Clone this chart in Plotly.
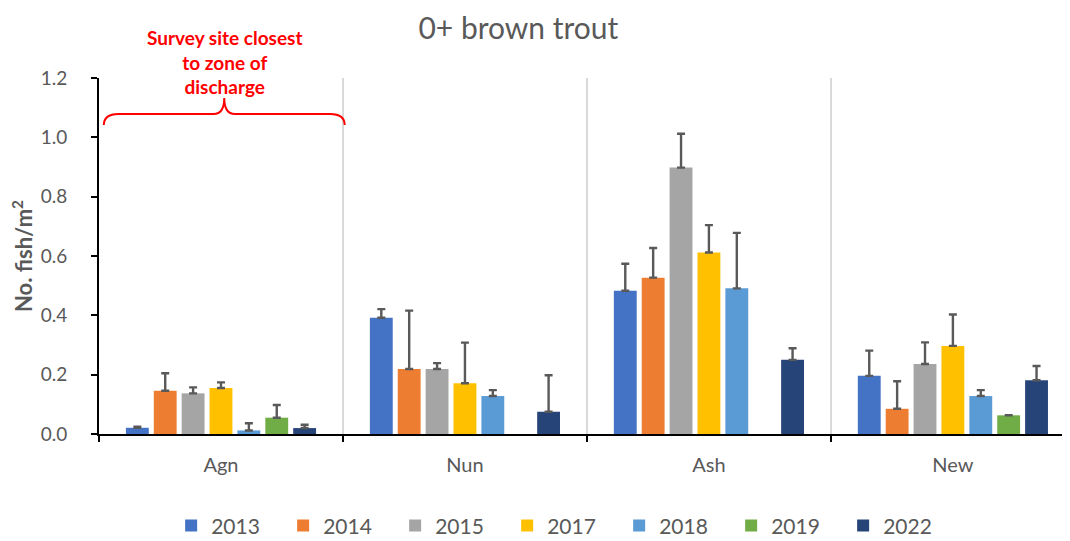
import plotly.graph_objects as go

sites = ["Agn", "Nun", "Ash", "New"]
years = ["2013", "2014", "2015", "2017", "2018", "2019", "2022"]
colors = ["#4472C4", "#ED7D31", "#A5A5A5", "#FFC000", "#5B9BD5", "#70AD47", "#264478"]

# mean density per site, one list per year (None = not surveyed)
d2013 = [0.021, 0.392, 0.483, 0.196]
d2014 = [0.146, 0.219, 0.527, 0.085]
d2015 = [0.137, 0.219, 0.898, 0.236]
d2017 = [0.155, 0.171, 0.612, 0.297]
d2018 = [0.012, 0.128, 0.491, 0.128]
d2019 = [0.055, None, None, 0.063]
d2022 = [0.020, 0.075, 0.250, 0.181]

# upper error (SE)
e2013 = [0.004, 0.029, 0.091, 0.085]
e2014 = [0.059, 0.197, 0.100, 0.093]
e2015 = [0.020, 0.020, 0.114, 0.073]
e2017 = [0.019, 0.137, 0.092, 0.106]
e2018 = [0.024, 0.020, 0.187, 0.020]
e2019 = [0.043, None, None, 0]
e2022 = [0.011, 0.123, 0.039, 0.048]

vals = [d2013, d2014, d2015, d2017, d2018, d2019, d2022]
errs = [e2013, e2014, e2015, e2017, e2018, e2019, e2022]

grey = "#595959"
fnt = "Lato"

fig = go.Figure()
for yr, c, v, e in zip(years, colors, vals, errs):
    fig.add_trace(go.Bar(
        x=sites, y=v, name=yr, marker_color=c, marker_line_width=0,
        error_y=dict(type="data", array=e, symmetric=False, arrayminus=[0] * 4,
                     color=grey, thickness=2.4, width=4),
    ))

# brace over the Agn group
brace = ("M 0.005,0.868 Q 0.005,0.899 0.02,0.899 L 0.118,0.899 "
         "Q 0.129,0.899 0.129,0.944 Q 0.129,0.899 0.14,0.899 L 0.238,0.899 "
         "Q 0.253,0.899 0.253,0.868")
fig.add_shape(type="path", path=brace, xref="paper", yref="paper",
              line=dict(color="red", width=2))

fig.add_annotation(x=0.129, y=1.045, xref="paper", yref="paper",
                   text="<b>Survey site closest<br>to zone of<br>discharge</b>",
                   showarrow=False, font=dict(family=fnt, size=19, color="red"),
                   yanchor="middle", xanchor="center")

# page body adds an 8px offset, so margins are shifted to compensate
fig.update_layout(
    width=1070, height=541,
    margin=dict(l=91, r=8, t=70, b=115),
    plot_bgcolor="white", paper_bgcolor="white",
    font=dict(family=fnt, color=grey, size=16),
    title=dict(text="0+ brown trout", x=0.477, xanchor="center", y=0.963,
               yanchor="middle", font=dict(size=30, color=grey)),
    barmode="group", bargap=0.2, bargroupgap=0.18,
    showlegend=True,
    legend=dict(orientation="h", x=0.478, xanchor="center",
                yref="container", y=0.043, yanchor="middle",
                font=dict(size=21, color=grey),
                itemwidth=30, entrywidth=67, entrywidthmode="pixels",
                traceorder="normal"),
    xaxis=dict(range=[-0.5, 3.48], tickson="boundaries", ticks="outside",
               ticklen=6, tickwidth=2, tickcolor="black",
               showline=True, linecolor="black", linewidth=2,
               showgrid=True, gridcolor="#d9d9d9", gridwidth=2,
               automargin=False,
               ticklabelstandoff=12, tickfont=dict(size=20, color=grey)),
    yaxis=dict(range=[0, 1.2], dtick=0.2, tickformat=".1f", ticks="outside",
               ticklen=6, tickwidth=2, tickcolor="black",
               showline=True, linecolor="black", linewidth=2,
               showgrid=False, zeroline=False, automargin=False,
               tickfont=dict(size=19, color=grey), ticklabelstandoff=20,
               title=dict(text="<b>No. fish/m<sup>2</sup></b>", standoff=6,
                          font=dict(size=22, color=grey))),
)

fig.write_html("out.html")
